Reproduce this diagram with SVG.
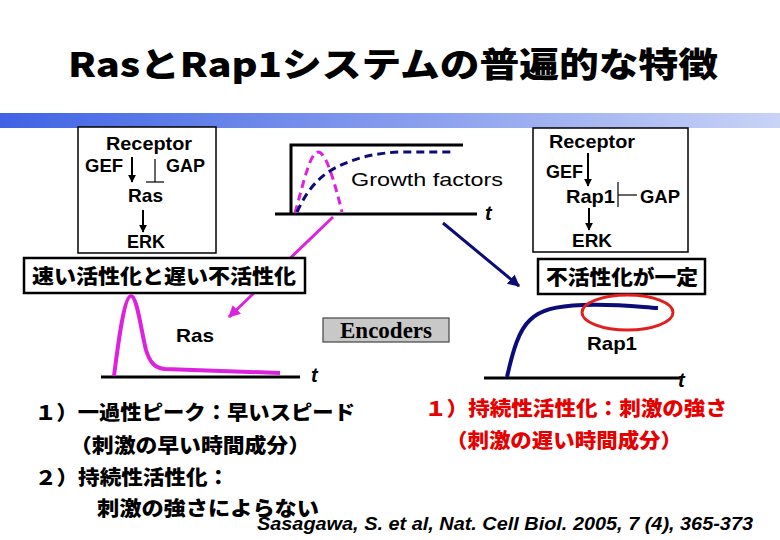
<svg xmlns="http://www.w3.org/2000/svg" width="780" height="540" viewBox="0 0 780 540">
<defs>
<linearGradient id="bar" x1="0" y1="0" x2="1" y2="0">
<stop offset="0" stop-color="#3f63e4"/>
<stop offset="1" stop-color="#c9d3f6"/>
</linearGradient>
<marker id="ak" viewBox="0 0 10 10" refX="9" refY="5" markerWidth="4" markerHeight="4" orient="auto" markerUnits="strokeWidth">
<path d="M0,0 L10,5 L0,10 z" fill="#000"/>
</marker>
<marker id="am" viewBox="0 0 10 10" refX="9" refY="5" markerWidth="4" markerHeight="4" orient="auto" markerUnits="strokeWidth">
<path d="M0,0 L10,5 L0,10 z" fill="#dd22dd"/>
</marker>
<marker id="an" viewBox="0 0 10 10" refX="9" refY="5" markerWidth="4" markerHeight="4" orient="auto" markerUnits="strokeWidth">
<path d="M0,0 L10,5 L0,10 z" fill="#0c0c78"/>
</marker>
</defs>
<style>
.lat{font-family:"Liberation Sans",Arial,sans-serif;font-weight:bold;font-size:19px;fill:#000}
.jp{font-family:"Noto Sans CJK JP","Liberation Sans",sans-serif;font-weight:900;font-size:20px;fill:#000}
.red{fill:#e60000}
.box{fill:#fff;stroke:#000;stroke-width:1.5}
.lbl{fill:#fff;stroke:#000;stroke-width:2.5}
.ax{stroke:#000;stroke-width:3;fill:none}
.arr{stroke:#000;stroke-width:2;fill:none}
.it{font-family:"Liberation Sans",Arial,sans-serif;font-weight:bold;font-style:italic;fill:#000}
</style>
<rect width="780" height="540" fill="#fff"/>
<text x="68" y="77" font-family="'Noto Sans CJK JP','Liberation Sans',sans-serif" font-weight="900" font-size="34" textLength="650" lengthAdjust="spacingAndGlyphs">RasとRap1システムの普遍的な特徴</text>
<rect x="0" y="113" width="780" height="15" fill="url(#bar)"/>

<g id="connectors">
<line x1="333" y1="217" x2="229" y2="317" stroke="#dd22dd" stroke-width="3" marker-end="url(#am)"/>
<line x1="443" y1="223" x2="519" y2="286" stroke="#0c0c78" stroke-width="3" marker-end="url(#an)"/>
</g>

<g id="ras-pathway">
<rect class="box" x="78" y="127" width="138" height="126"/>
<text class="lat" x="106" y="150" textLength="86" lengthAdjust="spacingAndGlyphs">Receptor</text>
<text class="lat" x="85" y="172" textLength="38" lengthAdjust="spacingAndGlyphs">GEF</text>
<text class="lat" x="166" y="172" textLength="39" lengthAdjust="spacingAndGlyphs">GAP</text>
<line class="arr" x1="132" y1="157" x2="132" y2="182" marker-end="url(#ak)"/>
<line stroke="#000" stroke-width="1.2" x1="155" y1="159" x2="155" y2="182"/>
<line stroke="#000" stroke-width="1.2" x1="146" y1="182" x2="164" y2="182"/>
<text class="lat" x="128" y="202" textLength="35" lengthAdjust="spacingAndGlyphs">Ras</text>
<line class="arr" x1="143" y1="210" x2="143" y2="232" marker-end="url(#ak)"/>
<text class="lat" x="127" y="248" textLength="38" lengthAdjust="spacingAndGlyphs">ERK</text>
</g>

<g id="label-left">
<rect class="lbl" x="24" y="258" width="281" height="35"/>
<text class="jp" x="32" y="284" textLength="264" lengthAdjust="spacingAndGlyphs">速い活性化と遅い不活性化</text>
</g>

<g id="growth-factors">
<line class="ax" x1="275" y1="214" x2="477" y2="214"/>
<polyline class="ax" points="291,214 291,145 463,145"/>
<path d="M295,213 C303,185 310,152 318,152 C326,152 334,180 342,212" fill="none" stroke="#dd22dd" stroke-width="3" stroke-dasharray="8,5"/>
<path d="M297,212 C305,195 315,178 337,167 C355,158 375,153 400,152 L453,152" fill="none" stroke="#0c0c78" stroke-width="3" stroke-dasharray="8,5"/>
<text x="351" y="186" font-family="'Liberation Sans',Arial,sans-serif" font-size="19" textLength="152" lengthAdjust="spacingAndGlyphs">Growth factors</text>
<text class="it" x="485" y="220" font-size="20">t</text>
</g>

<g id="rap1-pathway">
<rect class="box" x="533" y="128" width="155" height="124"/>
<text class="lat" x="549" y="148" textLength="86" lengthAdjust="spacingAndGlyphs">Receptor</text>
<text class="lat" x="546" y="178" textLength="37" lengthAdjust="spacingAndGlyphs">GEF</text>
<line class="arr" x1="588" y1="153" x2="588" y2="186" marker-end="url(#ak)"/>
<text class="lat" x="566" y="203" textLength="49" lengthAdjust="spacingAndGlyphs">Rap1</text>
<line stroke="#000" stroke-width="1.2" x1="618" y1="182" x2="618" y2="207"/>
<line stroke="#000" stroke-width="1.2" x1="618" y1="195" x2="637" y2="195"/>
<text class="lat" x="640" y="203" textLength="40" lengthAdjust="spacingAndGlyphs">GAP</text>
<line class="arr" x1="589" y1="208" x2="589" y2="230" marker-end="url(#ak)"/>
<text class="lat" x="572" y="247" textLength="40" lengthAdjust="spacingAndGlyphs">ERK</text>
</g>

<g id="label-right">
<rect class="lbl" x="538" y="259" width="167" height="35"/>
<text class="jp" x="546" y="285" textLength="152" lengthAdjust="spacingAndGlyphs">不活性化が一定</text>
</g>

<g id="ras-graph">
<line class="ax" x1="101" y1="377" x2="300" y2="377"/>
<path d="M114,376 C118,345 124,296 131,296 C137,296 141,330 146,350 C150,363 155,368 165,369 L280,373" fill="none" stroke="#dd22dd" stroke-width="4"/>
<text class="lat" x="176" y="342" font-size="20" textLength="38" lengthAdjust="spacingAndGlyphs">Ras</text>
<text class="it" x="311" y="382" font-size="20">t</text>
</g>

<g id="encoders">
<rect x="323" y="318" width="126" height="24" fill="#c8c8c8" stroke="#444" stroke-width="1.2"/>
<text x="386" y="338" text-anchor="middle" font-family="'Liberation Serif','Times New Roman',serif" font-weight="bold" font-size="23">Encoders</text>
</g>

<g id="rap1-graph">
<line class="ax" x1="484" y1="378" x2="680" y2="378"/>
<path d="M507,377 C513,350 519,330 530,320 C540,310 555,306 583,305 C620,304 640,307 658,308" fill="none" stroke="#0c0c78" stroke-width="4"/>
<ellipse cx="627.5" cy="312.5" rx="45.5" ry="17.5" fill="none" stroke="#e02020" stroke-width="3"/>
<text class="lat" x="587" y="350" font-size="20" textLength="50" lengthAdjust="spacingAndGlyphs">Rap1</text>
<text class="it" x="678" y="387" font-size="20">t</text>
</g>

<g id="notes">
<text class="jp" x="35" y="420" textLength="320" lengthAdjust="spacingAndGlyphs">１）一過性ピーク：早いスピード</text>
<text class="jp" x="70" y="453" textLength="240" lengthAdjust="spacingAndGlyphs">（刺激の早い時間成分）</text>
<text class="jp" x="35" y="485" textLength="194" lengthAdjust="spacingAndGlyphs">２）持続性活性化：</text>
<text class="jp" x="97" y="516" textLength="222" lengthAdjust="spacingAndGlyphs">刺激の強さによらない</text>
<text class="jp red" x="425" y="416" textLength="302" lengthAdjust="spacingAndGlyphs">１）持続性活性化：刺激の強さ</text>
<text class="jp red" x="446" y="448" textLength="236" lengthAdjust="spacingAndGlyphs">（刺激の遅い時間成分）</text>
<text class="it" x="257" y="530" font-size="18" textLength="496" lengthAdjust="spacingAndGlyphs">Sasagawa, S. et al, Nat. Cell Biol. 2005, 7 (4), 365-373</text>
</g>
</svg>
